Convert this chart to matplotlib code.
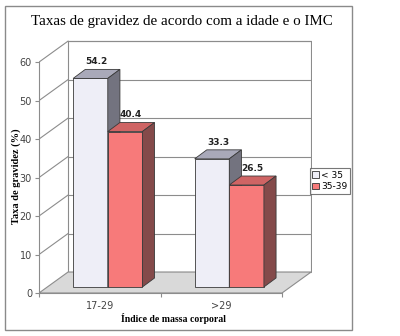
import numpy as np
import matplotlib.pyplot as plt
from matplotlib.patches import Polygon, Rectangle, Patch

categories = ["17-29", ">29"]
series_names = ["< 35", "35-39"]
under35 = [54.2, 33.3]
age35_39 = [40.4, 26.5]
yticks = [0, 10, 20, 30, 40, 50, 60]

# fake 3d look: depth offsets in data units
DX, DY = 0.239, 5.45      # back wall
BX, BY = 0.066, 1.56      # bar front shift
PX, PY = 0.10, 2.34       # bar depth
W = 0.285

front = ["#eeeef7", "#f77a7a"]
tops = ["#a9a9b9", "#cf6464"]
sides = ["#73737f", "#844a4a"]
grid_c = "#8c8c8c"

fig = plt.figure(figsize=(4, 3.36), dpi=100)
fig.patches.append(Rectangle((5/400, 6/336), 347/400, 324/336, transform=fig.transFigure,
                             fill=False, edgecolor="#8a8a8a", linewidth=1.0))
ax = fig.add_axes([39/400, 43/336, 273.4/400, 254/336])
ax.set_xlim(0, 2.25)
ax.set_ylim(0, 66)

# walls and floor
ax.add_patch(Polygon([(DX, DY), (2 + DX, DY), (2 + DX, 60 + DY), (DX, 60 + DY)],
                     closed=True, facecolor="white", edgecolor=grid_c, linewidth=0.8, zorder=1))
ax.add_patch(Polygon([(0, 0), (2, 0), (2 + DX, DY), (DX, DY)],
                     closed=True, facecolor="#d9d9d9", edgecolor=grid_c, linewidth=0.8, zorder=1))
for t in yticks[1:]:
    ax.plot([DX, 2 + DX], [t + DY, t + DY], color=grid_c, lw=0.8, zorder=1)
    ax.plot([0, DX], [t, t + DY], color=grid_c, lw=0.8, zorder=1)

x = np.arange(len(categories)) + 0.5 + BX
for i, vals in enumerate([under35, age35_39]):
    xs = x - W + i * W
    bars = ax.bar(xs, vals, width=W, bottom=BY, align="edge", color=front[i],
                  edgecolor="#3a3a3a", linewidth=0.6, zorder=3 + i)
    for b, v in zip(bars, vals):
        x0, x1 = b.get_x(), b.get_x() + b.get_width()
        y0, y1 = BY, BY + v
        ax.add_patch(Polygon([(x0, y1), (x1, y1), (x1 + PX, y1 + PY), (x0 + PX, y1 + PY)],
                             closed=True, facecolor=tops[i], edgecolor="#3a3a3a", lw=0.6, zorder=3 + i))
        ax.add_patch(Polygon([(x1, y0), (x1 + PX, y0 + PY), (x1 + PX, y1 + PY), (x1, y1)],
                             closed=True, facecolor=sides[i], edgecolor="#3a3a3a", lw=0.6, zorder=3 + i))
        ax.text((x0 + x1) / 2 + PX / 2, y1 + PY + 0.8, f"{v}", ha="center", va="bottom",
                fontsize=6.5, fontweight="bold", color="#222222", zorder=6)

for s in ["top", "right"]:
    ax.spines[s].set_visible(False)
ax.spines["left"].set_bounds(0, 60)
ax.spines["bottom"].set_bounds(0, 2)
ax.spines["left"].set_color(grid_c)
ax.spines["bottom"].set_color(grid_c)
ax.set_yticks(yticks)
ax.set_xticks([0, 1, 2])
ax.set_xticklabels([])
ax.set_xticks(np.arange(len(categories)) + 0.5, minor=True)
ax.set_xticklabels(categories, minor=True)
ax.tick_params(axis="y", length=3, color=grid_c, labelsize=7, labelcolor="#444444", pad=2)
ax.tick_params(axis="x", which="major", length=3, color=grid_c)
ax.tick_params(axis="x", which="minor", length=0, labelsize=7, labelcolor="#444444", pad=6)
ax.set_facecolor("none")

fig.text(182/400, 1 - 22/336, "Taxas de gravidez de acordo com a idade e o IMC", ha="center",
         va="center", family="Liberation Serif", fontsize=10.8)
fig.text(16/400, 1 - 176/336, "Taxa de gravidez (%)", rotation=90, ha="center", va="center",
         family="Liberation Serif", fontweight="bold", fontsize=7.5)
fig.text(173/400, 1 - 319/336, "Índice de massa corporal", ha="center", va="center",
         family="Liberation Serif", fontweight="bold", fontsize=7)

handles = [Patch(facecolor=front[i], edgecolor="#333333", linewidth=0.6) for i in range(2)]
leg = fig.legend(handles, series_names, loc="center", bbox_to_anchor=(330/400, 1 - 181/336),
                 fontsize=6.5, frameon=True, fancybox=False, handlelength=0.7, handleheight=0.7,
                 handletextpad=0.3, borderpad=0.25, labelspacing=0.3, borderaxespad=0)
leg.get_frame().set_edgecolor("#555555")
leg.get_frame().set_linewidth(0.8)

fig.savefig("out.png", dpi=100)
